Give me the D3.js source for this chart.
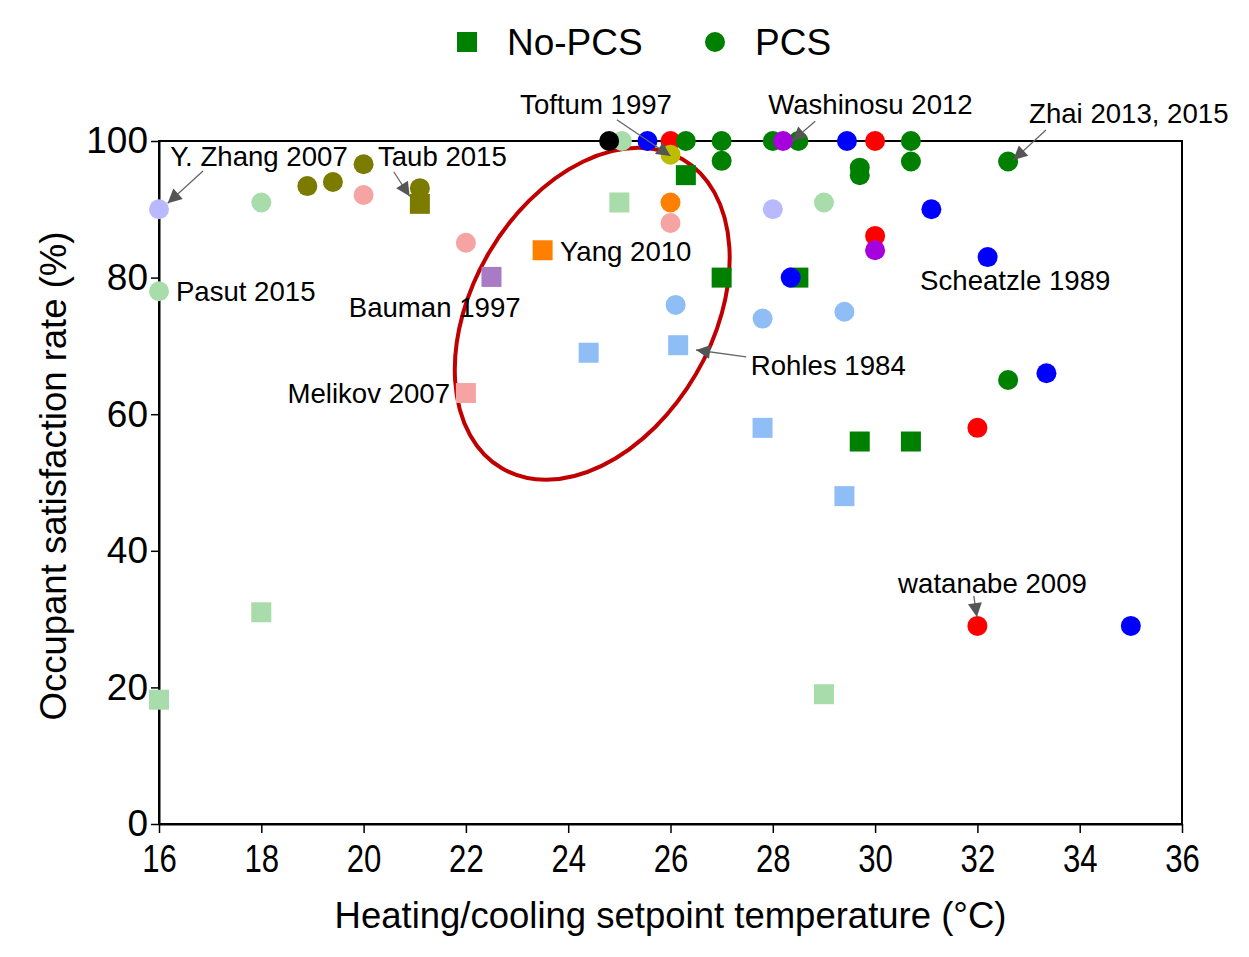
<!DOCTYPE html>
<meta charset="utf-8">
<style>
  body { margin: 0; background: #fff; }
  text { font-family: "Liberation Sans", Arial, sans-serif; fill: #000; }
</style>
<body>
<div id="chart"></div>
<script src="https://d3js.org/d3.v7.min.js"></script>
<script>
// ---- data: [temperature (°C), satisfaction (%)] ----
// No-PCS (squares)
const noPcsLightGreen = [[16, 18.2], [18, 31], [25, 91], [29, 19]];
const noPcsOlive      = [[21.1, 90.8]];
const noPcsPurple     = [[22.5, 80.1]];
const noPcsOrange     = [[23.5, 84]];
const noPcsPink       = [[22, 63.1]];
const noPcsLightBlue  = [[24.4, 69], [26.15, 70.1], [27.8, 58], [29.4, 48]];
const noPcsGreen      = [[26.3, 95], [27.0, 80], [28.5, 80], [29.7, 56], [30.7, 56]];
// PCS (circles)
const pcsLightGreen = [[16, 78], [18, 91], [25.05, 100], [29, 91]];
const pcsLavender   = [[16, 90], [28.0, 90]];
const pcsPink       = [[20, 92.1], [22, 85.1], [26, 88]];
const pcsOlive      = [[18.9, 93.4], [19.4, 94], [20, 96.6], [21.1, 93.1]];
const pcsRed        = [[26, 100], [30, 100], [30, 86.1], [32, 58], [32, 29]];
const pcsGreen      = [[26.3, 100], [27, 100], [27, 97.1], [28, 100], [28.5, 100],
                       [29.7, 96.1], [29.7, 95], [30.7, 100], [30.7, 97], [32.6, 97], [32.6, 65]];
const pcsBlue       = [[25.55, 100], [29.45, 100], [31.1, 90], [32.2, 83], [28.35, 80], [33.35, 66], [35, 29]];
const pcsBlack      = [[24.8, 100]];
const pcsYellow     = [[26, 98]];
const pcsOrange     = [[26, 91]];
const pcsPurple     = [[28.2, 100], [30, 84]];
const pcsLightBlue  = [[26.1, 76], [27.8, 74], [29.4, 75]];

const xTicks = [16, 18, 20, 22, 24, 26, 28, 30, 32, 34, 36];
const yTicks = [0, 20, 40, 60, 80, 100];

// annotations: label, text anchor (data units), optional arrow from -> to (data units)
const notes = [
  { t: "Y. Zhang 2007", x: 16.22, y: 97.7, from: [16.86, 95.6], to: [16.17, 90.9] },
  { t: "Taub 2015", x: 20.28, y: 97.7, from: [20.59, 95.5], to: [20.9, 91.9] },
  { t: "Pasut 2015", x: 16.33, y: 78.0 },
  { t: "Bauman 1997", x: 19.71, y: 75.7 },
  { t: "Melikov 2007", x: 21.69, y: 63.0, anchor: "end" },
  { t: "Yang 2010", x: 23.84, y: 83.8 },
  { t: "Toftum 1997", x: 23.06, y: 105.3, from: [24.95, 103.1], to: [26.0, 97.8] },
  { t: "Washinosu 2012", x: 27.91, y: 105.3, from: [28.83, 102.9], to: [28.38, 100] },
  { t: "Zhai 2013, 2015", x: 33.01, y: 104.0, from: [33.34, 101.6], to: [32.7, 97.2] },
  { t: "Scheatzle 1989", x: 30.88, y: 79.6 },
  { t: "Rohles 1984", x: 27.57, y: 67.2, from: [27.48, 68.4], to: [26.5, 69.4] },
  { t: "watanabe 2009", x: 30.45, y: 35.3, from: [31.93, 33.4], to: [31.99, 30.3] }
];

// highlighted region (centre in data units)
const ringCentre = [24.47, 74.7];

// ---- layout ----
const W = 1249, H = 957;
const margin = { top: 141, right: 67, bottom: 133, left: 159 };
const width = W - margin.left - margin.right,
      height = H - margin.top - margin.bottom;

const svgRoot = d3.select("#chart").append("svg")
  .attr("width", W).attr("height", H);

svgRoot.append("defs").append("marker")
  .attr("id", "arr")
  .attr("viewBox", "0 0 10 10")
  .attr("refX", 10).attr("refY", 5)
  .attr("markerUnits", "userSpaceOnUse")
  .attr("markerWidth", 18).attr("markerHeight", 14)
  .attr("orient", "auto")
  .append("path").attr("d", "M0,0 L10,5 L0,10 z").attr("fill", "#555");

const svg = svgRoot.append("g")
  .attr("transform", "translate(" + margin.left + "," + margin.top + ")");

const x = d3.scaleLinear().domain([16, 36]).range([0, width]);
const y = d3.scaleLinear().domain([0, 100]).range([height, 0]);

// frame
svg.append("rect")
  .attr("width", width).attr("height", height)
  .attr("fill", "none").attr("stroke", "#000").attr("stroke-width", 2);

// axes
const gx = svg.append("g")
  .attr("transform", "translate(0," + height + ")")
  .call(d3.axisBottom(x).tickValues(xTicks).tickSizeInner(9).tickSizeOuter(0).tickPadding(12));
// narrow x tick labels, centred on their ticks
gx.selectAll(".tick text")
  .style("font-size", "38px")
  .attr("transform", "scale(0.82,1)");

const gy = svg.append("g")
  .call(d3.axisLeft(y).tickValues(yTicks).tickSizeInner(8).tickSizeOuter(0).tickPadding(3));
gy.selectAll("text").style("font-size", "37px");

[gx, gy].forEach(function (g) {
  g.select(".domain").attr("stroke-width", 2);
  g.selectAll(".tick line").attr("stroke-width", 1.5);
  g.attr("font-family", null);
});

// axis titles
svg.append("text")
  .attr("x", width / 2).attr("y", height + 104)
  .attr("text-anchor", "middle")
  .style("font-size", "36.5px")
  .text("Heating/cooling setpoint temperature (°C)");

svg.append("text")
  .attr("transform", "rotate(-90)")
  .attr("x", -(476 - margin.top)).attr("y", 66 - margin.left)
  .attr("text-anchor", "middle")
  .style("font-size", "36.5px")
  .text("Occupant satisfaction rate (%)");

// ring
svg.append("ellipse")
  .attr("cx", x(ringCentre[0])).attr("cy", y(ringCentre[1]))
  .attr("rx", 179).attr("ry", 120)
  .attr("transform", "rotate(-59.7," + x(ringCentre[0]) + "," + y(ringCentre[1]) + ")")
  .attr("fill", "none").attr("stroke", "#c00000").attr("stroke-width", 4);

// markers
const S = 20, R = 10;
function squares(data, color) {
  svg.append("g").selectAll("rect").data(data).enter().append("rect")
    .attr("x", function (d) { return x(d[0]) - S / 2; })
    .attr("y", function (d) { return y(d[1]) - S / 2; })
    .attr("width", S).attr("height", S)
    .attr("fill", color);
}
function circles(data, color) {
  svg.append("g").selectAll("circle").data(data).enter().append("circle")
    .attr("cx", function (d) { return x(d[0]); })
    .attr("cy", function (d) { return y(d[1]); })
    .attr("r", R)
    .attr("fill", color);
}

squares(noPcsLightGreen, "#a9dcab");
squares(noPcsOlive, "#7b7b00");
squares(noPcsPurple, "#a87bc4");
squares(noPcsOrange, "#ff8000");
squares(noPcsPink, "#f5a3a3");
squares(noPcsLightBlue, "#8fbdf6");
squares(noPcsGreen, "#008000");

circles(pcsLightGreen, "#a9dcab");
circles(pcsLavender, "#b9b9ff");
circles(pcsPink, "#f5a3a3");
circles(pcsOlive, "#7b7b00");
circles(pcsRed, "#ff0000");
circles(pcsGreen, "#008000");
circles(pcsBlue, "#0000ff");
circles(pcsBlack, "#000000");
circles(pcsYellow, "#bdbd00");
circles(pcsOrange, "#ff8000");
circles(pcsPurple, "#a600dc");
circles(pcsLightBlue, "#8fbdf6");

// annotations
notes.forEach(function (n) {
  svg.append("text")
    .attr("x", x(n.x)).attr("y", y(n.y))
    .attr("dy", "0.35em")
    .attr("text-anchor", n.anchor || "start")
    .style("font-size", "27.6px")
    .text(n.t);
  if (n.from) {
    svg.append("line")
      .attr("x1", x(n.from[0])).attr("y1", y(n.from[1]))
      .attr("x2", x(n.to[0])).attr("y2", y(n.to[1]))
      .attr("stroke", "#666").attr("stroke-width", 1.3)
      .attr("marker-end", "url(#arr)");
  }
});

// legend
const legend = svgRoot.append("g").attr("transform", "translate(0,42)");
legend.append("rect").attr("x", 457).attr("y", -10).attr("width", 20).attr("height", 20).attr("fill", "#008000");
legend.append("text").attr("x", 507).attr("dy", "0.35em").style("font-size", "37px").text("No-PCS");
legend.append("circle").attr("cx", 715).attr("cy", 0).attr("r", 10).attr("fill", "#008000");
legend.append("text").attr("x", 755).attr("dy", "0.35em").style("font-size", "37px").text("PCS");
</script>
</body>
